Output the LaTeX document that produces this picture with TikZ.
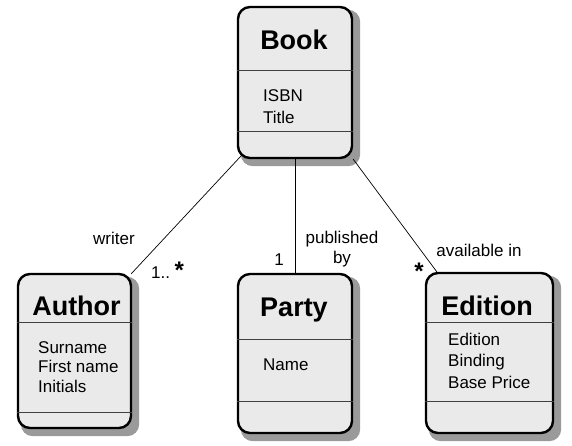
\documentclass[tikz,border=0pt]{standalone}
\usepackage{fontspec}
\setmainfont{Liberation Sans}
\usetikzlibrary{calc,backgrounds}
\definecolor{boxfill}{HTML}{EAEAEA}
\definecolor{shadowgray}{HTML}{9A9A9A}
\tikzset{
  umlbox/.style={draw=black, line width=2.4pt, fill=boxfill, rounded corners=12pt, inner sep=0pt},
  shadowfill/.style={fill=shadowgray, rounded corners=12pt},
  divider/.style={draw=black!75, line width=1pt},
  conn/.style={draw=black, line width=0.7pt},
  clsname/.style={font=\fontsize{27}{30}\selectfont\bfseries, inner sep=0pt},
  attr/.style={font=\fontsize{17}{20}\selectfont, anchor=base west, inner sep=0pt},
  lbl/.style={font=\fontsize{17}{20}\selectfont, inner sep=0pt, align=center},
  mult/.style={font=\fontsize{17}{20}\selectfont, inner sep=0pt},
  star/.style={font=\fontsize{24}{24}\selectfont\bfseries, inner sep=0pt},
}
\begin{document}
\begin{tikzpicture}[x=1pt,y=-1pt]
% boxes
\node[umlbox, minimum width=114pt, minimum height=151pt] (book) at (295,82.5) {};
\node[umlbox, minimum width=113pt, minimum height=154pt] (author) at (74.5,351) {};
\node[umlbox, minimum width=114pt, minimum height=159pt] (party) at (295,353.5) {};
\node[umlbox, minimum width=127pt, minimum height=160pt] (edition) at (489.5,353) {};
% shadows and page background, behind everything
\begin{scope}[on background layer]
\fill[white] (0,0) rectangle (572,445);
\foreach \b in {book,author,party,edition}{
  \fill[shadowfill] ($(\b.south west)+(4,7)$) rectangle ($(\b.north east)+(7,4)$);
}
\end{scope}
\useasboundingbox (0,0) rectangle (572,445);
% dividers
\draw[divider] ($(book.north west)+(0,65)$) -- ($(book.north east)+(0,65)$);
\draw[divider] ($(book.north west)+(0,126)$) -- ($(book.north east)+(0,126)$);
\draw[divider] ($(author.north west)+(0,50)$) -- ($(author.north east)+(0,50)$);
\draw[divider] ($(author.north west)+(0,140)$) -- ($(author.north east)+(0,140)$);
\draw[divider] ($(party.north west)+(0,67)$) -- ($(party.north east)+(0,67)$);
\draw[divider] ($(party.north west)+(0,129)$) -- ($(party.north east)+(0,129)$);
\draw[divider] ($(edition.north west)+(0,51)$) -- ($(edition.north east)+(0,51)$);
\draw[divider] ($(edition.north west)+(0,130)$) -- ($(edition.north east)+(0,130)$);
% class names
\node[clsname] (bookname) at (294,40) {Book};
\node[clsname] (authorname) at (76.5,306) {Author};
\node[clsname] (partyname) at (294,310) {Party};
\node[clsname] (editionname) at (487,306) {Edition};
% attributes
\node[attr] (isbn) at (263,101) {ISBN};
\node[attr] (title) at (263,123) {Title};
\node[attr] (surname) at (38,353) {Surname};
\node[attr] (firstname) at (38,372.5) {First name};
\node[attr] (initials) at (38,392) {Initials};
\node[attr] (pname) at (263,370) {Name};
\node[attr] (ed) at (448,345) {Edition};
\node[attr] (binding) at (448,366.5) {Binding};
\node[attr] (price) at (448,388) {Base Price};
% connectors
\draw[conn] ($(book.south west)+(4,-3)$) -- ($(author.north east)+(-1,1)$);
\draw[conn] (book.south) -- (party.north);
\draw[conn] (book.south east) -- ($(edition.north west)+(12,0)$);
% labels
\node[lbl] (writer) at (114,238) {writer};
\node[mult, anchor=base west] (m1) at (151,278) {1..};
\node[star, anchor=base west] (m1star) at (m1.base east) {\,*};
\node[mult] (m2) at (279,260) {1};
\node[lbl] (pubby) at (342,249) {published\\by};
\node[lbl] (avail) at (479,250) {available in};
\node[star, anchor=base] (m3) at (419,279) {*};
\end{tikzpicture}
\end{document}
